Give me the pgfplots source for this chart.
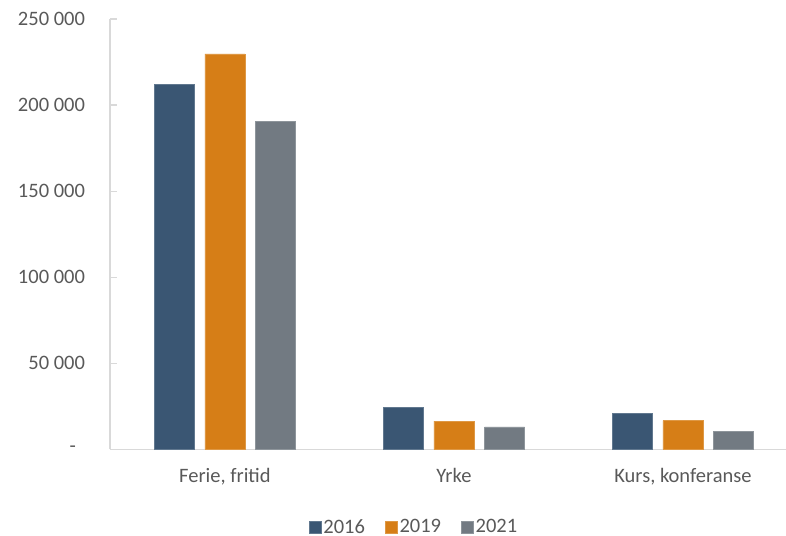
\documentclass[border=0pt]{standalone}
\usepackage{pgfplots}
\pgfplotsset{compat=1.18}
\usepackage{fontspec}
\setmainfont{Carlito}
\definecolor{c16}{HTML}{3A5673}
\definecolor{c19}{HTML}{D67E17}
\definecolor{c21}{HTML}{727A82}
\definecolor{txt}{HTML}{595959}
\definecolor{axl}{HTML}{D9D9D9}
\begin{document}
\fontsize{20.5bp}{24bp}\selectfont
\begin{tikzpicture}
\useasboundingbox (0,0) rectangle (786bp,536bp);
\begin{axis}[
  at={(110bp,86.7bp)}, anchor=south west,
  scale only axis, width=676bp, height=430.3bp,
  xmin=-0.502, xmax=2.45, ymin=0, ymax=250000,
  ybar=10.7bp, bar width=40bp,
  axis x line*=bottom, axis y line*=left,
  axis line style={axl, line width=1.2bp, -},
  xtick={0,1,2}, xticklabels={{Ferie, fritid},Yrke,{Kurs, konferanse}},
  xtick style={draw=none},
  scaled y ticks=false,
  ytick={0,50000,100000,150000,200000,250000},
  yticklabels={{-\hspace*{9bp}},50 000,100 000,150 000,200 000,250 000},
  ytick style={axl, line width=1.2bp},
  tick align=inside, major tick length=7bp,
  ticklabel style={font=\fontsize{20.5bp}{24bp}\selectfont, text=txt},
  yticklabel style={xshift=-18bp},
  xticklabel style={yshift=-12bp},
  legend columns=3,
  legend style={draw=none, fill=none, at={(0.4497,-0.182)}, anchor=center,
    inner sep=0pt, nodes={inner ysep=1bp},
    font=\fontsize{20.5bp}{24bp}\selectfont, text=txt,
    /tikz/every even column/.append style={column sep=18bp}},
  legend image code/.code={\fill[#1] (0bp,-6bp) rectangle (12bp,6bp);},
]
\addplot[fill=c16, draw=c16!80!white, line width=0.6bp] coordinates {(0,212200) (1,24400) (2,20900)};
\addplot[fill=c19, draw=c19!80!white, line width=0.6bp] coordinates {(0,229700) (1,16400) (2,16600)};
\addplot[fill=c21, draw=c21!80!white, line width=0.6bp] coordinates {(0,190700) (1,13000) (2,10200)};
\legend{2016,2019,2021}
\end{axis}
\end{tikzpicture}
\end{document}
